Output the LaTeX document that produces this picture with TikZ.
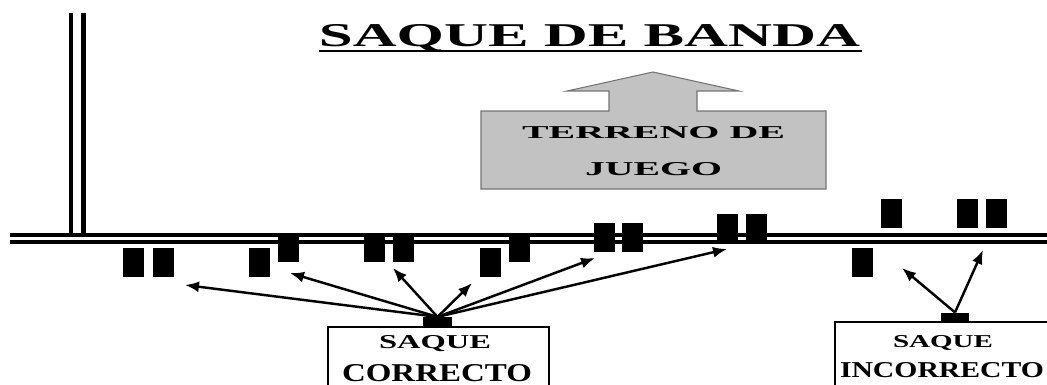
\documentclass[tikz,border=0pt]{standalone}
\usepackage{fontspec}
\usepackage{graphicx}
\setmainfont{Liberation Serif}
\usetikzlibrary{arrows.meta}

\newlength\px
\setlength\px{0.02cm}
\newcommand{\wordbox}[3]{\resizebox{#1\px}{#2\px}{\bfseries #3}}

\tikzset{
	player/.style={fill=black, inner sep=0pt, minimum width=0.42cm, minimum height=0.58cm, anchor=north west},
	tab/.style={fill=black, inner sep=0pt, minimum width=0.57cm, minimum height=0.19cm},
	plainbox/.style={draw, line width=1.2pt, inner sep=0pt, anchor=north west},
	word/.style={inner sep=0pt, anchor=base},
	pass/.style={-{Latex[length=0.28cm, width=0.22cm]}, line width=1.4pt},
}

\begin{document}
\begin{tikzpicture}[x=0.02cm, y=-0.02cm]
		\useasboundingbox (0,0) rectangle (1047,385);
		\clip (0,0) rectangle (1047,385);
		% Title:
		\node[word] (title) at (589.5,47) {\wordbox{541}{22}{SAQUE DE BANDA}};
		\draw[line width=1.6pt] ([yshift=-0.08cm]title.base west) -- ([yshift=-0.08cm, xshift=0.04cm]title.base east);
		% Field arrow:
		\draw[fill=black!24, draw=black!55, line width=0.6pt] (481,111) -- (609,111) -- (609,91) -- (567,91) -- (653,72) -- (739,91) -- (697,91) -- (697,111) -- (826,111) -- (826,189) -- (481,189) -- cycle;
		\node[word] (terreno) at (653.5,138) {\wordbox{263}{12}{TERRENO DE}};
		\node[word] (juego) at (653.5,175) {\wordbox{137}{13}{JUEGO}};
		% Lines:
		\draw[line width=2.7pt] (71,13) -- (71,233);
		\draw[line width=2.7pt] (83.5,13) -- (83.5,233);
		\draw[line width=1.9pt] (10,235) -- (1047,235);
		\draw[line width=1.9pt] (10,242) -- (1047,242);
		% Players:
		\node[player] (p1) at (123,248){};
		\node[player] (p2) at (153,248){};
		\node[player] (p3) at (249,248){};
		\node[player] (p4) at (278,233){};
		\node[player] (p5) at (364,233){};
		\node[player] (p6) at (393,233){};
		\node[player] (p7) at (480,248){};
		\node[player] (p8) at (509,233){};
		\node[player] (p9) at (594,223){};
		\node[player] (p10) at (622,223){};
		\node[player] (p11) at (717,214){};
		\node[player] (p12) at (746,214){};
		\node[player] (q1) at (881,199){};
		\node[player] (q2) at (957,199){};
		\node[player] (q3) at (986,199){};
		\node[player] (q4) at (852,248){};
		% Boxes:
		\node[plainbox, minimum width=4.42cm, minimum height=3cm] (cbox) at (327,326){};
		\node[word] (csaque) at (435,348) {\wordbox{112}{13}{SAQUE}};
		\node[word] (ccorrecto) at (437,381) {\wordbox{190}{17}{CORRECTO}};
		\node[plainbox, minimum width=5cm, minimum height=3cm] (ibox) at (834,321){};
		\node[word] (isaque) at (943,347) {\wordbox{100}{12}{SAQUE}};
		\node[word] (iincorrecto) at (942,377) {\wordbox{204}{15}{INCORRECTO}};
		\node[tab] (ctab) at (437.5,322){};
		\node[tab] (itab) at (955,317.5){};
		% Throws:
		\coordinate (c1) at (185,285);
		\coordinate (c2) at (290,273);
		\coordinate (c3) at (393,268);
		\coordinate (c4) at (472,283);
		\coordinate (c5) at (595,258);
		\coordinate (c6) at (727,249);
		\coordinate (i1) at (902,268);
		\coordinate (i2) at (983,250);
		\foreach \t in {c1,c2,c3,c4,c5,c6}
			\draw[pass] (ctab.north) -- (\t);
		\draw[pass] (itab.north) -- (i1);
		\draw[pass] (itab.north) -- (i2);
	\end{tikzpicture}
\end{document}
